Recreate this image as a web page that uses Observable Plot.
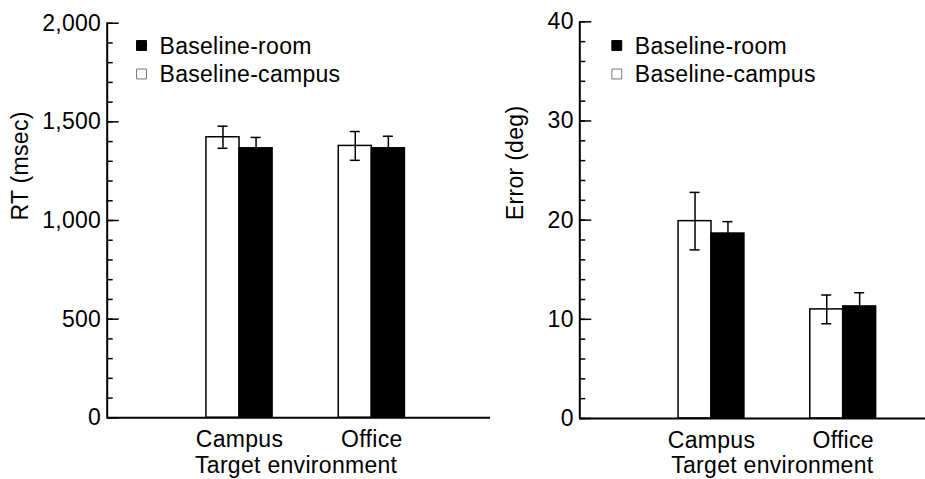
<!DOCTYPE html>
<html><head><meta charset="utf-8">
<script src="https://cdn.jsdelivr.net/npm/d3@7"></script>
<script src="https://cdn.jsdelivr.net/npm/@observablehq/plot@0.6"></script>
<style>
html,body{margin:0;padding:0;background:#fff;}
#wrap{position:relative;width:925px;height:479px;overflow:hidden;background:#fff;}
#wrap svg{position:absolute;top:0;}
</style></head><body><div id="wrap"></div>
<script>
// ---- data ----
const environments = ["Campus", "Office"];
const conditions = ["Baseline-campus", "Baseline-room"];
const rtBaselineCampus = [1422, 1378];
const rtBaselineCampusErr = [56, 73];
const rtBaselineRoom = [1366, 1366];
const rtBaselineRoomErr = [55, 61];
const errBaselineCampus = [19.9, 11.0];
const errBaselineCampusErr = [2.9, 1.45];
const errBaselineRoom = [18.65, 11.3];
const errBaselineRoomErr = [1.2, 1.38];
const rtTicks = [0, 500, 1000, 1500, 2000];
const rtMinorTicks = d3.range(0, 2001, 100);
const errTicks = [0, 10, 20, 30, 40];
const errMinorTicks = d3.range(0, 41, 2);
const legendLabels = ["Baseline-room", "Baseline-campus"];
const xAxisLabel = "Target environment";

const conditionFill = {"Baseline-campus": "white", "Baseline-room": "black"};
const legendFill = {"Baseline-room": "black", "Baseline-campus": "white"};
const legendStroke = {"Baseline-room": "black", "Baseline-campus": "#777"};

function buildRows(campusMean, campusErr, roomMean, roomErr) {
  return environments.flatMap((env, i) => [
    {env, pos: i + 1, cond: conditions[0], side: -1, mean: campusMean[i], err: campusErr[i]},
    {env, pos: i + 1, cond: conditions[1], side: 1, mean: roomMean[i], err: roomErr[i]}
  ]);
}

const BAR = 0.25;
const font = "'Liberation Sans', Arial, Helvetica, sans-serif";

function panel(cfg) {
  const rows = cfg.rows;
  const pxPerUnit = (cfg.width - cfg.marginLeft - cfg.marginRight) / cfg.xMax;
  const cap = 5 / pxPerUnit;
  const center = d => d.pos + d.side * BAR / 2;
  const x1 = d => d.side < 0 ? d.pos - BAR : d.pos;
  const x2 = d => d.side < 0 ? d.pos : d.pos + BAR;
  const marks = [];
  for (const c of conditions) {
    marks.push(Plot.rectY(rows.filter(d => d.cond === c), {
      x1, x2, y1: 0, y2: "mean", fill: conditionFill[c], stroke: "black", strokeWidth: 1.5
    }));
  }
  marks.push(
    Plot.ruleX(rows, {x: center, y1: d => d.mean - d.err, y2: d => d.mean + d.err, stroke: "black", strokeWidth: 1.5}),
    Plot.ruleY(rows, {y: d => d.mean + d.err, x1: d => center(d) - cap, x2: d => center(d) + cap, stroke: "black", strokeWidth: 1.5}),
    Plot.ruleY(rows, {y: d => d.mean - d.err, x1: d => center(d) - cap, x2: d => center(d) + cap, stroke: "black", strokeWidth: 1.5}),
    Plot.axisY({ticks: cfg.minorTicks, tickSize: -6, fill: "none", strokeWidth: 1.5, label: null}),
    Plot.axisY({ticks: cfg.ticks, tickFormat: d3.format(","), tickSize: -12, tickPadding: 18, strokeWidth: 1.5, label: null, fill: "black"}),
    Plot.axisX({ticks: environments.map((e, i) => i + 1), tickFormat: d => environments[d - 1], tickSize: 0, tickPadding: 13, label: null, fill: "black"}),
    Plot.ruleX([0], {stroke: "black", strokeWidth: 2}),
    Plot.ruleY([0], {stroke: "black", strokeWidth: 2}),
    Plot.text([cfg.yLabel], {text: d => d, frameAnchor: "left", lineAnchor: "middle", rotate: -90, dx: cfg.yLabelDx, fill: "black"}),
    Plot.text([xAxisLabel], {text: d => d, x: () => d3.mean(environments, (e, i) => i + 1), frameAnchor: "bottom", lineAnchor: "middle", dx: cfg.xLabelDx, dy: 47.5, fill: "black"})
  );
  legendLabels.forEach((lab, k) => {
    marks.push(
      Plot.dot([lab], {frameAnchor: "top-left", dx: cfg.legendDx, dy: cfg.legendY[k] - cfg.marginTop, symbol: "square", r: 5.6,
        fill: legendFill[lab], stroke: legendStroke[lab], strokeWidth: 1}),
      Plot.text([lab], {text: d => d, frameAnchor: "top-left", lineAnchor: "middle", textAnchor: "start", dx: cfg.legendDx + 18, dy: cfg.legendTextY[k] - cfg.marginTop, fill: "black"})
    );
  });
  const svg = Plot.plot({
    width: cfg.width, height: 479,
    marginLeft: cfg.marginLeft, marginRight: cfg.marginRight,
    marginTop: cfg.marginTop, marginBottom: cfg.marginBottom,
    x: {type: "linear", domain: [0, cfg.xMax]},
    y: {type: "linear", domain: [0, cfg.yMax]},
    style: {background: "transparent", fontFamily: font, fontSize: "23px", letterSpacing: "0.3px", color: "black", overflow: "visible"},
    marks
  });
  svg.style.left = cfg.left + "px";
  return svg;
}

const wrap = document.getElementById("wrap");
wrap.appendChild(panel({
  rows: buildRows(rtBaselineCampus, rtBaselineCampusErr, rtBaselineRoom, rtBaselineRoomErr),
  left: 0, width: 500, marginLeft: 106.7, marginRight: 10, marginTop: 22.7, marginBottom: 61.7,
  xMax: 2.897, yMax: 2000, ticks: rtTicks, minorTicks: rtMinorTicks,
  yLabel: "RT (msec)", yLabelDx: -86.7, xLabelDx: -9.5,
  legendDx: 34.3, legendY: [45, 73.5], legendTextY: [46.6, 74.1]
}));
wrap.appendChild(panel({
  rows: buildRows(errBaselineCampus, errBaselineCampusErr, errBaselineRoom, errBaselineRoomErr),
  left: 460, width: 465, marginLeft: 119.3, marginRight: 0, marginTop: 21.3, marginBottom: 61,
  xMax: 2.625, yMax: 40, ticks: errTicks, minorTicks: errMinorTicks,
  yLabel: "Error (deg)", yLabelDx: -64.3, xLabelDx: -5,
  legendDx: 37, legendY: [45, 73.5], legendTextY: [46.6, 74.1]
}));
</script></body></html>
